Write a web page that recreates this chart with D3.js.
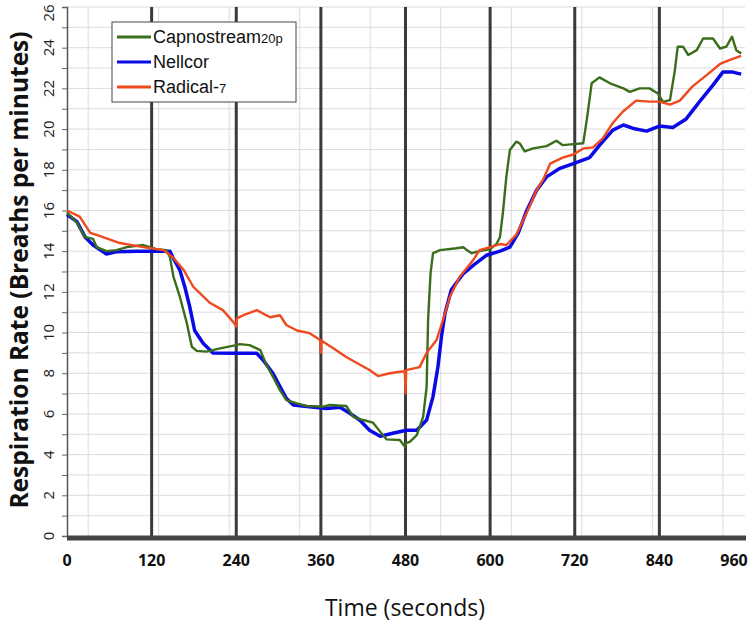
<!DOCTYPE html>
<html>
<head>
<meta charset="utf-8">
<script src="https://cdn.jsdelivr.net/npm/d3@7"></script>
<style>
  body { margin: 0; background: #fff; }
  svg { display: block; }
  .grid line { stroke: #dcdcdc; stroke-width: 1; }
  .tickX { font-family: "Open Sans", sans-serif; font-weight: 700; font-size: 16px; fill: #111; }
  .tickY { font-family: "Open Sans", sans-serif; font-size: 15px; fill: #222; }
  .legendText { font-family: "Liberation Sans", Arial, sans-serif; font-size: 18px; fill: #111; }
</style>
</head>
<body>
<div id="chart"></div>
<script>
// x ticks (seconds) and marker lines
let xTicks = [0, 120, 240, 360, 480, 600, 720, 840, 960];
let markerTimes = [120, 240, 360, 480, 600, 720, 840];
let xGrid = [30, 130, 230, 330, 430, 530, 630, 730, 830, 930];
let yTicks = d3.range(0, 27, 2);

// Capnostream20p
let capnoTime = [0, 14, 25, 37, 42, 56, 70, 85, 108, 127, 141, 146, 151, 160, 170, 177, 184, 198, 217, 240, 245, 259, 274, 283, 292, 302, 311, 326, 340, 363, 373, 396, 406, 420, 434, 444, 453, 472, 479, 481, 486, 496, 505, 510, 512, 515.5, 519, 529, 552, 562, 567, 574, 585, 600, 609, 614, 618, 623, 628, 637, 642, 649, 661, 680, 694, 703, 718, 732, 737, 744, 755, 770, 789, 798, 812, 826, 838, 845, 855, 862, 866, 873.5, 881, 893, 902, 916, 926, 935, 943, 949, 956];
let capnoRate = [15.9, 15.4, 14.7, 14.6, 14.2, 14.0, 14.05, 14.2, 14.3, 14.1, 14.05, 13.7, 12.74, 11.76, 10.45, 9.3, 9.1, 9.06, 9.22, 9.38, 9.43, 9.38, 9.14, 8.4, 7.83, 7.17, 6.68, 6.52, 6.39, 6.36, 6.44, 6.39, 5.86, 5.7, 5.57, 5.13, 4.75, 4.72, 4.4, 4.57, 4.63, 4.96, 5.86, 7.34, 10.6, 12.9, 13.9, 14.05, 14.14, 14.19, 14.05, 13.9, 14.0, 14.1, 14.35, 14.7, 15.86, 17.65, 18.97, 19.38, 19.3, 18.9, 19.05, 19.16, 19.43, 19.21, 19.26, 19.3, 20.44, 22.25, 22.54, 22.25, 22.0, 21.83, 22.0, 22.0, 21.75, 21.34, 21.42, 22.9, 24.05, 24.05, 23.64, 23.88, 24.45, 24.45, 23.96, 24.05, 24.54, 23.88, 23.72];

// Nellcor
let nellTime = [0, 14, 25.5, 37, 56, 70, 100, 146, 150, 160, 167, 174, 181, 193, 207, 240, 269, 278, 292, 302, 311, 321, 340, 368, 387, 401, 415, 429, 444, 462, 481, 496, 510, 519, 526, 531, 536, 545, 562, 576, 595, 614, 628, 640, 652, 666, 680, 699, 718, 741, 755, 774, 789, 803, 822, 840, 859, 878, 897, 916, 930, 944, 956];
let nellRate = [15.8, 15.45, 14.7, 14.3, 13.86, 13.97, 14.0, 14.0, 13.7, 13.07, 12.25, 11.27, 10.1, 9.47, 9.0, 8.98, 8.98, 8.65, 8.0, 7.34, 6.77, 6.44, 6.36, 6.27, 6.33, 6.03, 5.7, 5.2, 4.9, 5.05, 5.2, 5.2, 5.7, 6.85, 8.32, 9.8, 10.94, 12.1, 12.9, 13.3, 13.8, 14.0, 14.2, 14.9, 16.0, 17.0, 17.65, 18.07, 18.3, 18.6, 19.2, 19.95, 20.2, 20.03, 19.9, 20.15, 20.08, 20.5, 21.35, 22.16, 22.8, 22.8, 22.7];

// Radical-7
let radTime = [0, 18, 33, 42, 75, 108, 137, 150, 165, 179, 203, 221, 235, 240, 241, 250, 269, 288, 302, 311, 326, 344, 359, 360, 361, 377, 396, 411, 429, 441, 458, 472, 479, 480, 481, 500, 510, 524, 533, 543, 557, 576, 585, 600, 614, 623, 637, 652, 666, 675, 685, 703, 718, 732, 746, 760, 774, 788, 807, 826, 840, 855, 869, 887, 907, 926, 940, 956];
let radRate = [16.0, 15.7, 14.9, 14.8, 14.4, 14.2, 14.05, 13.7, 13.1, 12.25, 11.45, 11.1, 10.55, 10.3, 10.7, 10.85, 11.1, 10.75, 10.85, 10.37, 10.1, 9.97, 9.63, 9.0, 9.6, 9.24, 8.8, 8.5, 8.16, 7.86, 8.0, 8.07, 8.1, 7.0, 8.15, 8.3, 9.0, 9.63, 10.6, 11.76, 12.74, 13.56, 14.05, 14.2, 14.35, 14.3, 14.8, 15.9, 17.0, 17.5, 18.3, 18.6, 18.75, 19.05, 19.1, 19.55, 20.3, 20.85, 21.4, 21.35, 21.35, 21.2, 21.4, 22.1, 22.65, 23.2, 23.4, 23.6];

let seriesNames = ["Nellcor", "Capnostream20p", "Radical-7"];
let seriesColors = ["#0a0ae6", "#3b6e1c", "#ef4a1e"];
let seriesWidths = [3.5, 2.4, 2.4];

let width = 750, height = 623;
let svg = d3.select("#chart").append("svg")
    .attr("width", width)
    .attr("height", height);

let x = d3.scaleLinear().domain([0, 960]).range([67, 744]);
let y = d3.scaleLinear().domain([0, 26]).range([536, 7]);

// light grid
let grid = svg.append("g").attr("class", "grid");
grid.selectAll(".h").data(d3.range(1, 27)).enter().append("line")
    .attr("x1", x(0)).attr("x2", 745)
    .attr("y1", d => y(d)).attr("y2", d => y(d));
grid.selectAll(".v").data(xGrid).enter().append("line")
    .attr("x1", d => x(d)).attr("x2", d => x(d))
    .attr("y1", y(26)).attr("y2", y(0));

// y axis with minor ticks every unit
let yAxis = d3.axisLeft(y).tickValues(d3.range(0, 27)).tickSize(5).tickFormat("");
let gy = svg.append("g").attr("transform", "translate(" + x(0) + ",0)").call(yAxis);
gy.select(".domain").attr("stroke", "#555").attr("stroke-width", 1.5);
gy.selectAll(".tick line").attr("stroke", "#666");

// rotated y tick labels (top one nudged down so it stays inside the page)
svg.selectAll(".tickY").data(yTicks).enter().append("text")
    .attr("class", "tickY")
    .attr("transform", d => "translate(54," + Math.max(y(d), 13) + ") rotate(-90)")
    .attr("text-anchor", "middle")
    .text(d => d);

// thick marker lines
svg.selectAll(".marker").data(markerTimes).enter().append("line")
    .attr("x1", d => x(d)).attr("x2", d => x(d))
    .attr("y1", y(26)).attr("y2", y(0))
    .attr("stroke", "#3a3a3a")
    .attr("stroke-width", 3);

// series
let line = d3.line().x(d => x(d[0])).y(d => y(d[1]));
let seriesData = [
    d3.zip(nellTime, nellRate),
    d3.zip(capnoTime, capnoRate),
    d3.zip(radTime, radRate)
];
seriesData.forEach(function(data, i){
    svg.append("path")
        .datum(data)
        .attr("fill", "none")
        .attr("stroke", seriesColors[i])
        .attr("stroke-width", seriesWidths[i])
        .attr("stroke-linejoin", "round")
        .attr("d", line);
});

// bottom axis bar
svg.append("line")
    .attr("x1", x(0)).attr("x2", 746)
    .attr("y1", y(0) + 2).attr("y2", y(0) + 2)
    .attr("stroke", "#444")
    .attr("stroke-width", 5);

svg.selectAll(".tickX").data(xTicks).enter().append("text")
    .attr("class", "tickX")
    .attr("x", (d, i) => i === xTicks.length - 1 ? x(d) - 10 : x(d))
    .attr("y", 566)
    .attr("text-anchor", "middle")
    .text(d => d);

// axis titles
svg.append("text")
    .attr("x", 405).attr("y", 616)
    .attr("text-anchor", "middle")
    .style("font-family", "Open Sans, sans-serif")
    .style("font-size", "23px")
    .style("fill", "#111")
    .text("Time (seconds)");

svg.append("text")
    .attr("transform", "translate(28,270) rotate(-90)")
    .attr("text-anchor", "middle")
    .style("font-family", "Open Sans, sans-serif")
    .style("font-weight", "700")
    .style("font-size", "24.5px")
    .style("fill", "#111")
    .text("Respiration Rate (Breaths per minutes)");

// legend
let legendOrder = [1, 0, 2];
let legend = svg.append("g").attr("transform", "translate(112,22)");
legend.append("rect")
    .attr("width", 184).attr("height", 80)
    .attr("fill", "#fff")
    .attr("stroke", "#444")
    .attr("stroke-width", 1);
legendOrder.forEach(function(s, i){
    let ly = 15 + i * 25;
    legend.append("line")
        .attr("x1", 5).attr("x2", 39)
        .attr("y1", ly).attr("y2", ly)
        .attr("stroke", seriesColors[s])
        .attr("stroke-width", 3);
    let name = seriesNames[s];
    let t = legend.append("text")
        .attr("class", "legendText")
        .attr("x", 41).attr("y", ly + 6);
    if (name === "Capnostream20p") {
        t.append("tspan").text("Capnostream");
        t.append("tspan").style("font-size", "13px").text("20p");
    } else if (name === "Radical-7") {
        t.append("tspan").text("Radical-");
        t.append("tspan").style("font-size", "13px").text("7");
    } else {
        t.text(name);
    }
});
</script>
</body>
</html>
